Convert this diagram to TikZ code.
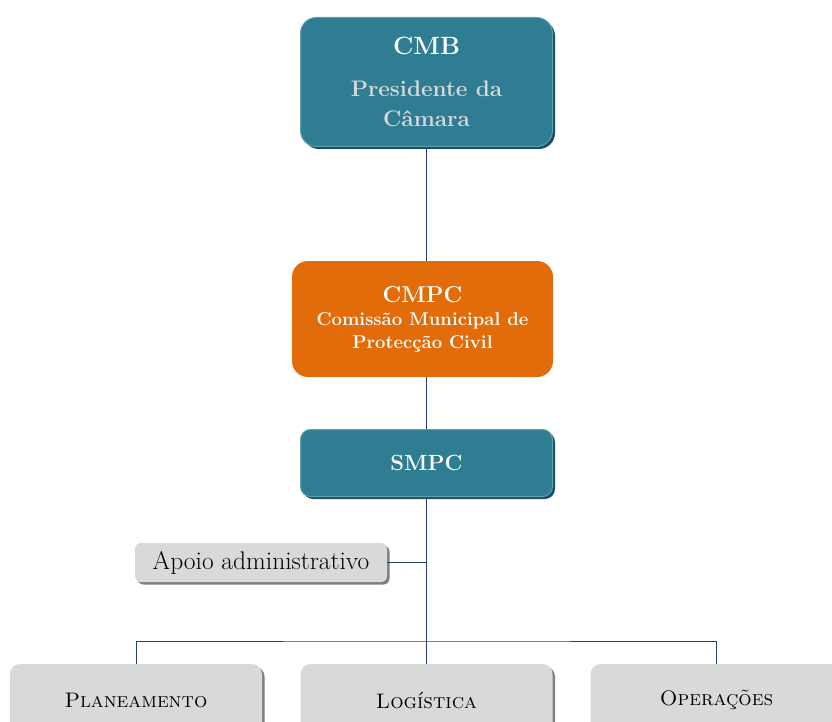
\documentclass[tikz,border=0pt]{standalone}
\usepackage{fontspec}
\usepackage{tikz}
\usetikzlibrary{shadows}
\definecolor{cmbTeal}{HTML}{2F7D92}
\definecolor{cmbTealLight}{HTML}{5E9FB1}
\definecolor{cmbTealDark}{HTML}{1C4F5E}
\definecolor{cmbOrange}{HTML}{E36C0A}
\definecolor{cmbGrey}{HTML}{D9D9D9}
\definecolor{cmbShadow}{HTML}{7F7F7F}
\definecolor{cmbLight}{HTML}{D8D8D8}
\definecolor{cmbLine}{HTML}{24406E}

\tikzset{
    tealbox/.style={fill=cmbTeal, draw=cmbTealLight, line width=1pt, text=white, align=center, rounded corners=16pt,
        drop shadow={shadow xshift=2.5pt, shadow yshift=-2.5pt, fill=cmbTealDark, draw=none, opacity=1}},
    orangebox/.style={fill=cmbOrange, text=white, align=center, rounded corners=16pt},
    greybox/.style={fill=cmbGrey, text=black, align=center, rounded corners=10pt,
        drop shadow={shadow xshift=2.5pt, shadow yshift=-2.5pt, fill=cmbShadow, opacity=1}},
    link/.style={draw=cmbLine, line width=0.8pt}
}

\begin{document}
\begin{tikzpicture}[x=1pt, y=-1pt]
    \useasboundingbox (0,0) rectangle (832,722);
    \clip (0,0) rectangle (832,722);

    % top of the chain
    \node[tealbox, minimum width=252pt, minimum height=129pt,
          font=\bfseries\fontsize{22.5}{30}\selectfont, text=cmbLight] (cmb) at (426.5,82)
        {\textcolor{white}{\fontsize{25}{30}\selectfont CMB}\\[12pt]
         Presidente da\\ Câmara};
    \node[orangebox, minimum width=261pt, minimum height=116pt,
          font=\bfseries\fontsize{18.5}{23}\selectfont] (cmpc) at (422.5,319)
        {{\fontsize{23}{27}\selectfont CMPC}\\
         Comissão Municipal de\\ Protecção Civil};
    \node[tealbox, rounded corners=10pt, minimum width=252pt, minimum height=67pt,
          font=\bfseries\fontsize{22}{28}\selectfont] (smpc) at (426.5,463) {SMPC};

    % side box
    \node[greybox, rounded corners=6pt, minimum width=252pt, minimum height=39pt,
          font=\fontsize{25.5}{28}\selectfont] (apoio) at (261,562.5) {Apoio administrativo};

    % bottom row
    \coordinate (hub) at (426.5,641);
    \node[greybox, minimum width=252pt, minimum height=72pt,
          font=\fontsize{21}{24}\selectfont] (plan) at (136,700) {\textsc{Planeamento}};
    \node[greybox, minimum width=252pt, minimum height=72pt,
          font=\fontsize{21}{24}\selectfont] (logi) at (426.5,700) {\textsc{Logística}};
    \node[greybox, minimum width=252pt, minimum height=72pt,
          font=\fontsize{21}{24}\selectfont] (oper) at (716.5,700) {\textsc{Operações}};

    % connectors
    \draw[link] (cmb.south) -- (cmpc.north -| cmb.south);
    \draw[link] (cmpc.south -| smpc.north) -- (smpc.north);
    \draw[link] (smpc.south) -- (hub);
    \draw[link] (apoio.east) -- (apoio.east -| smpc.south);
    \draw[link] (plan.north) |- (hub) -| (oper.north);
    \draw[link] (hub) -- (logi.north);
\end{tikzpicture}
\end{document}
